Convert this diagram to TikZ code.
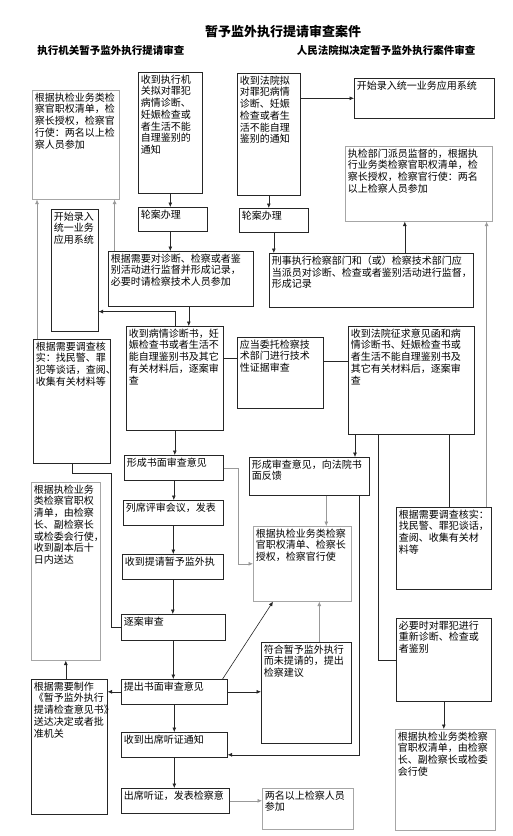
\documentclass[tikz,border=0pt]{standalone}
\usepackage{fontspec}
\setmainfont{Noto Sans CJK SC}
\usetikzlibrary{arrows.meta}
\newcommand{\cajatxt}[3]{\parbox[t][\dimexpr#2pt-5pt\relax][t]{\dimexpr#1pt-5pt\relax}{\raggedright #3}}

\begin{document}
\begin{tikzpicture}[
        x=1pt, y=-1pt,
        caja/.style={draw=black!85, line width=0.6pt, anchor=north west, inner sep=2.5pt, font=\fontsize{10}{11.7}\selectfont},
        cajagris/.style={caja, draw=black!35},
        titulo/.style={font=\bfseries\fontsize{13}{15}\selectfont},
        subtitulo/.style={font=\bfseries\fontsize{10.5}{12}\selectfont},
        flecha/.style={-{Latex[length=4.5pt,width=4pt]}, line width=0.6pt, black!85},
        flechagris/.style={flecha, black!40},
        linea/.style={line width=0.6pt, black!85}
    ]
        \useasboundingbox (0,0) rectangle (512,836);

        \node[titulo] (tit) at (283,32) {暂予监外执行提请审查案件};
        \node[subtitulo] (sub1) at (111,50) {执行机关暂予监外执行提请审查};
        \node[subtitulo] (sub2) at (386,50) {人民法院拟决定暂予监外执行案件审查};

        \node[cajagris] (a1) at (32,90) {\cajatxt{87}{109}{根据执检业务类检\\察官职权清单，检\\察长授权，检察官\\行使：两名以上检\\察人员参加}};
        \node[caja] (b1) at (138,72) {\cajatxt{64}{121}{收到执行机\\关拟对罪犯\\病情诊断、\\妊娠检查或\\者生活不能\\自理鉴别的\\通知}};
        \node[caja] (lun1) at (138,207) {\cajatxt{69}{24}{轮案办理}};
        \node[caja] (lu1) at (51,209) {\cajatxt{47}{122}{开始录入\\统一业务\\应用系统}};
        \node[caja] (jd1) at (108,251) {\cajatxt{145}{55}{根据需要对诊断、检察或者鉴\\别活动进行监督并形成记录，\\必要时请检察技术人员参加}};

        \node[caja] (b2) at (237,73) {\cajatxt{63}{122}{收到法院拟\\对罪犯病情\\诊断、妊娠\\检查或者生\\活不能自理\\鉴别的通知}};
        \node[caja] (lu2) at (354,78) {\cajatxt{140}{40}{开始录入统一业务应用系统}};
        \node[cajagris] (a2) at (345,146) {\cajatxt{147}{75}{执检部门派员监督的，根据执\\行业务类检察官职权清单，检\\察长授权，检察官行使：两名\\以上检察人员参加}};
        \node[caja] (lun2) at (239,208) {\cajatxt{69}{24}{轮案办理}};
        \node[caja] (jd2) at (269,253) {\cajatxt{204}{54}{刑事执行检察部门和（或）检察技术部门应\\当派员对诊断、检查或者鉴别活动进行监督，\\形成记录}};

        \node[caja] (sd1) at (126,326) {\cajatxt{97}{104}{收到病情诊断书，妊\\娠检查书或者生活不\\能自理鉴别书及其它\\有关材料后，逐案审\\查}};
        \node[caja] (wt) at (237,337) {\cajatxt{86}{71}{应当委托检察技\\术部门进行技术\\性证据审查}};
        \node[caja] (sd2) at (348,326) {\cajatxt{126}{108}{收到法院征求意见函和病\\情诊断书、妊娠检查书或\\者生活不能自理鉴别书及\\其它有关材料后，逐案审\\查}};
        \node[caja] (dc1) at (33,339) {\cajatxt{77}{124}{根据需要调查核\\实：找民警、罪\\犯等谈话，查阅、\\收集有关材料等}};

        \node[caja] (ys1) at (124,455) {\cajatxt{99}{25}{形成书面审查意见}};
        \node[caja] (ys2) at (249,457) {\cajatxt{120}{38}{形成审查意见，向法院书\\面反馈}};
        \node[caja] (ps) at (123,500) {\cajatxt{100}{25}{列席评审会议，发表}};
        \node[caja] (tq) at (122,554) {\cajatxt{101}{25}{收到提请暂予监外执}};
        \node[caja] (zs) at (121,614) {\cajatxt{104}{26}{逐案审查}};
        \node[cajagris] (sd3) at (31,482) {\cajatxt{69}{178}{根据执检业务\\类检察官职权\\清单，由检察\\长、副检察长\\或检委会行使，\\收到副本后十\\日内送达}};
        \node[cajagris] (zj) at (253,526) {\cajatxt{98}{75}{根据执检业务类检察\\官职权清单、检察长\\授权，检察官行使}};
        \node[caja] (dc2) at (396,507) {\cajatxt{95}{82}{根据需要调查核实：\\找民警、罪犯谈话，\\查阅、收集有关材\\料等}};
        \node[caja] (bz) at (396,618) {\cajatxt{95}{83}{必要时对罪犯进行\\重新诊断、检查或\\者鉴别}};
        \node[caja] (jy) at (261,642) {\cajatxt{90}{101}{符合暂予监外执行\\而未提请的，提出\\检察建议}};

        \node[caja] (tc) at (121,679) {\cajatxt{106}{25}{提出书面审查意见}};
        \node[caja] (zz) at (31,679) {\cajatxt{76}{135}{根据需要制作\\《暂予监外执行\\提请检查意见书》\\送达决定或者批\\准机关}};
        \node[caja] (cx) at (121,732) {\cajatxt{106}{25}{收到出席听证通知}};
        \node[caja] (ft) at (121,788) {\cajatxt{108}{25}{出席听证，发表检察意}};
        \node[cajagris] (lm) at (262,788) {\cajatxt{91}{41}{两名以上检察人员\\参加}};
        \node[cajagris] (jc) at (395,729) {\cajatxt{100}{101}{根据执检业务类检察\\官职权清单，由检察\\长、副检察长或检委\\会行使}};

        \draw[flecha] (b2.east |- lu2.west) -- (lu2.west);
        \draw[flecha] (b1.south) -- (b1.south |- lun1.north);
        \draw[flecha] (b1.south |- lun1.south) -- (b1.south |- jd1.north);
        \draw[flecha] (b2.south) -- (b2.south |- lun2.north);
        \draw[flecha] (lun2.south) -- (lun2.south |- jd2.north);
        \draw[flecha] ([xshift=-14]a2.south |- jd2.north) -- ([xshift=-14]a2.south);
        \draw[flechagris] ([xshift=-5]dc2.north east) -- ([xshift=-5]dc2.north east |- a2.south);
        \draw[flechagris] ([xshift=-5]a1.south east |- jd1.north) -- ([xshift=-5]a1.south east);
        \draw[flechagris] ([xshift=5]a1.south west |- dc1.north) -- ([xshift=5]a1.south west);
        \draw[flecha] ([xshift=8]jd1.south) -- ([xshift=8]jd1.south |- sd1.north);
        \draw[flecha] (sd1.north) |- ([yshift=-5]jd1.south -| lu1.east);

        \draw[linea] ([yshift=15]wt.west) -- ([yshift=15]wt.west -| sd1.east);
        \draw[linea] ([yshift=12]wt.east) -- ([yshift=12]wt.east -| sd2.west);

        \draw[flecha] (sd1.south) -- (sd1.south |- ys1.north);
        \draw[flecha] (ys1.south) -- (ys1.south |- ps.north);
        \draw[flecha] (ps.south) -- (ps.south |- tq.north);
        \draw[flecha] (tq.south) -- (tq.south |- zs.north);
        \draw[flecha] (zs.south) -- (zs.south |- tc.north);
        \draw[flecha] (tc.south) -- (tc.south |- cx.north);
        \draw[flecha] (cx.south) -- (cx.south |- ft.north);
        \draw[flecha] (tc.west) -- (tc.west -| zz.east);
        \draw[flecha] (tc.east) -- (tc.east -| jy.west);
        \draw[flecha] ([xshift=-5]tc.north east) -- ([xshift=20]zj.south west);
        \draw[flechagris] ([xshift=13]jy.north) -- ([xshift=13]jy.north |- zj.south);
        \draw[flecha] (sd3.south |- zz.north) -- (sd3.south);
        \draw[linea] (dc1.south) -- ([yshift=-10]dc1.south) -| ([xshift=-10]zs.west) -- (zs.west);

        \draw[flechagris] (ys1.east) -- ++(15,0) |- (zj.west);
        \draw[flechagris] ([xshift=17]ys2.south) -- ([xshift=17]ys2.south |- zj.north);
        \draw[flecha] ([xshift=7]sd2.south west) -- ([xshift=7]sd2.south west |- ys2.north);
        \draw[linea] ([xshift=-25]sd2.south east) -- ([xshift=-25]sd2.south east |- dc2.north);
        \draw[linea] ([xshift=30]sd2.south west) |- (bz.west);
        \draw[flecha] (bz.south) -- (bz.south |- jc.north);
        \draw[flecha] ([xshift=-10]ys2.south east) |- ([yshift=-10]cx.east);
        \draw[flechagris] (ft.east) -- (ft.east -| lm.west);
    \end{tikzpicture}
\end{document}
